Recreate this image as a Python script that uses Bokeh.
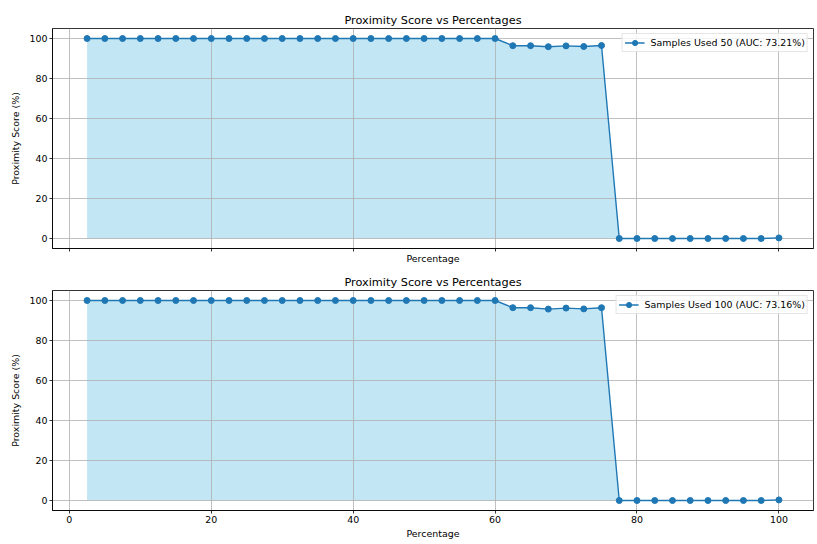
from bokeh.plotting import figure
from bokeh.layouts import column
from bokeh.models import FixedTicker, Legend, LegendItem, ColumnDataSource, Range1d
from bokeh.embed import file_html
from bokeh.resources import INLINE

percentages = [2.5, 5, 7.5, 10, 12.5, 15, 17.5, 20, 22.5, 25, 27.5, 30, 32.5, 35, 37.5, 40,
               42.5, 45, 47.5, 50, 52.5, 55, 57.5, 60, 62.5, 65, 67.5, 70, 72.5, 75, 77.5, 80,
               82.5, 85, 87.5, 90, 92.5, 95, 97.5, 100]

scores_50 = [100, 100, 100, 100, 100, 100, 100, 100, 100, 100, 100, 100, 100, 100, 100, 100,
             100, 100, 100, 100, 100, 100, 100, 100, 96.4, 96.4, 95.9, 96.3, 96.0, 96.5, 0, 0,
             0, 0, 0, 0, 0, 0, 0, 0.3]

scores_100 = [100, 100, 100, 100, 100, 100, 100, 100, 100, 100, 100, 100, 100, 100, 100, 100,
              100, 100, 100, 100, 100, 100, 100, 100, 96.4, 96.4, 95.7, 96.2, 95.8, 96.4, 0, 0,
              0, 0, 0, 0, 0, 0, 0, 0.3]

labels = ["Samples Used 50 (AUC: 73.21%)", "Samples Used 100 (AUC: 73.16%)"]
x_ticks = [0, 20, 40, 60, 80, 100]
y_ticks = [0, 20, 40, 60, 80, 100]

FONT = "DejaVu Sans"
BLUE = "#1f77b4"


def make_plot(scores, label, height, top, bottom, show_xlabels, xlabel_standoff):
    src = ColumnDataSource(dict(x=percentages, y=scores, z=[0] * len(scores)))
    p = figure(width=817, height=height, output_backend="svg", toolbar_location=None,
               x_range=Range1d(-2.375, 104.875), y_range=Range1d(-5, 105),
               min_border_left=52, min_border_right=4, min_border_top=top,
               min_border_bottom=bottom, title="Proximity Score vs Percentages")
    p.title.align = "center"
    p.title.text_font = FONT
    p.title.text_font_size = "11.3px"
    p.title.text_font_style = "normal"
    p.title.text_color = "#000000"
    p.title.standoff = 3

    p.varea(x="x", y1="z", y2="y", source=src, fill_color="skyblue", fill_alpha=0.5,
            level="image")
    lr = p.line(x="x", y="y", source=src, line_color=BLUE, line_width=1.4)
    sr = p.scatter(x="x", y="y", source=src, size=6, fill_color=BLUE, line_color=BLUE)

    for ax in (p.xaxis[0], p.yaxis[0]):
        ax.major_label_text_font = FONT
        ax.major_label_text_font_size = "9.45px"
        ax.major_label_text_color = "#000000"
        ax.axis_label_text_font = FONT
        ax.axis_label_text_font_size = "9.45px"
        ax.axis_label_text_font_style = "normal"
        ax.axis_label_text_color = "#000000"
        ax.axis_line_color = "#000000"
        ax.axis_line_width = 0.8
        ax.major_tick_line_color = "#000000"
        ax.major_tick_line_width = 0.8
        ax.major_tick_out = 3
        ax.major_tick_in = 0
        ax.minor_tick_line_color = None
        ax.major_label_standoff = 2

    p.xaxis.ticker = FixedTicker(ticks=x_ticks)
    p.yaxis.ticker = FixedTicker(ticks=y_ticks)
    p.xaxis.axis_label = "Percentage"
    p.yaxis.axis_label = "Proximity Score (%)"
    p.yaxis.axis_label_standoff = 5
    p.xaxis.axis_label_standoff = xlabel_standoff
    if not show_xlabels:
        p.xaxis.major_label_overrides = {t: "" for t in x_ticks}

    p.xgrid.ticker = FixedTicker(ticks=x_ticks)
    p.ygrid.ticker = FixedTicker(ticks=y_ticks)
    for g in (p.xgrid[0], p.ygrid[0]):
        g.grid_line_color = "#b0b0b0"
        g.grid_line_width = 0.8

    p.outline_line_color = "#000000"
    p.outline_line_width = 0.8
    p.background_fill_color = "white"
    p.border_fill_color = "white"

    legend = Legend(items=[LegendItem(label=label, renderers=[lr, sr])],
                    location="top_right")
    legend.label_text_font = FONT
    legend.label_text_font_size = "9.45px"
    legend.label_text_color = "#000000"
    legend.margin = 5
    legend.padding = 2
    legend.spacing = 0
    legend.label_height = 13
    legend.glyph_height = 13
    legend.glyph_width = 20
    legend.label_standoff = 6
    legend.border_line_color = "#cccccc"
    legend.border_line_width = 0.8
    legend.background_fill_alpha = 0.8
    p.add_layout(legend, "center")
    return p


p1 = make_plot(scores_50, labels[0], 270, 28, 22, False, 1)
p2 = make_plot(scores_100, labels[1], 274, 20, 34, True, 2)
layout = column(p1, p2, spacing=0)

open("out.html", "w").write(file_html(layout, INLINE))
